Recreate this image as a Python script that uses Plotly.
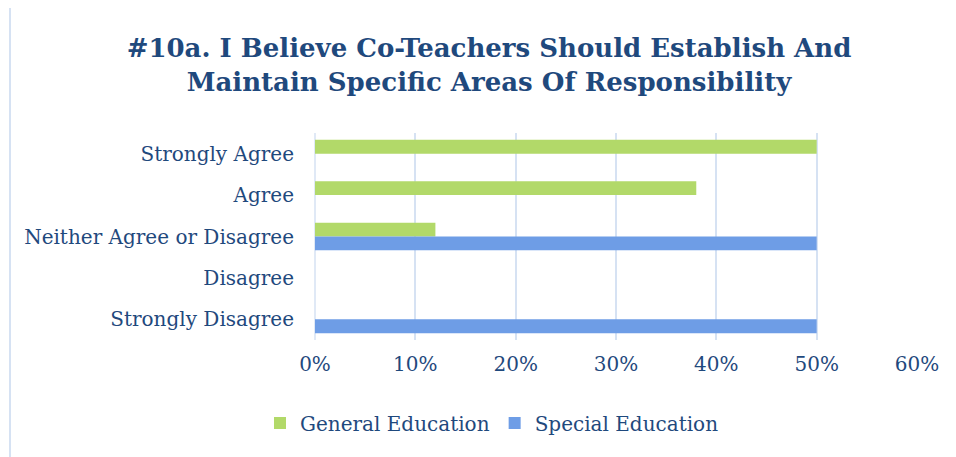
import plotly.graph_objects as go

# datos
categories = ["Strongly Agree", "Agree", "Neither Agree or Disagree", "Disagree", "Strongly Disagree"]
general_ed = [0.50, 0.38, 0.12, 0.0, 0.0]
special_ed = [0.0, 0.0, 0.50, 0.0, 0.50]
x_ticks = [0, 0.1, 0.2, 0.3, 0.4, 0.5, 0.6]
x_tick_labels = ["0%", "10%", "20%", "30%", "40%", "50%", "60%"]

# la página añade 8px de margen al body: se compensa aquí
OFF = 8
W, H = 956 - OFF, 457 - OFF
M_L, M_R, M_T, M_B = 315 - OFF, 39, 133 - OFF, 117
TEXT = "#1F497D"
GRID = "#D6E2F3"
FONT = "DejaVu Serif, Cambria, serif"

fig = go.Figure()
fig.add_trace(go.Bar(
    y=categories, x=general_ed, orientation="h", name="General Education",
    marker=dict(color="#B2D969", line=dict(width=0)),
))
fig.add_trace(go.Bar(
    y=categories, x=special_ed, orientation="h", name="Special Education",
    marker=dict(color="#6E9DE6", line=dict(width=0)),
))

pw = W - M_L - M_R
ph = H - M_T - M_B


def px_x(p):
    # pixel de la página -> coordenada paper
    return (p - OFF - M_L) / pw


def px_y(p):
    return (H - M_B - (p - OFF)) / ph


fig.update_layout(
    width=W, height=H,
    margin=dict(l=M_L, r=M_R, t=M_T, b=M_B),
    paper_bgcolor="white", plot_bgcolor="white",
    font=dict(family=FONT, size=20, color=TEXT),
    barmode="group", bargap=0.33, bargroupgap=0,
    title=dict(
        text="<b>#10a. I Believe Co-Teachers Should Establish And<br>Maintain Specific Areas Of Responsibility</b>",
        x=(489 - OFF) / W, xanchor="center", xref="container",
        y=1 - (57 - OFF) / H, yanchor="middle", yref="container",
        font=dict(family=FONT, size=26, color=TEXT),
    ),
    legend=dict(
        orientation="h", xref="container", x=(492 - OFF) / W, xanchor="center",
        yref="container", y=1 - (423 - OFF) / H, yanchor="middle",
        font=dict(size=20, color=TEXT), itemwidth=30,
        traceorder="normal",
    ),
    showlegend=True,
)
fig.update_xaxes(
    range=[0, 0.6], tickvals=x_ticks, ticktext=x_tick_labels,
    showgrid=True, gridcolor=GRID, gridwidth=1.5, zeroline=False,
    showline=False, ticks="", ticklabelstandoff=10,
    tickfont=dict(size=20, color=TEXT),
)
fig.update_yaxes(
    autorange="reversed", showgrid=False, showline=False, ticks="",
    ticklabelstandoff=20, tickfont=dict(size=20, color=TEXT),
)

# marco del área del gráfico (solo borde superior e izquierdo visibles)
fig.add_shape(type="line", xref="paper", yref="paper",
              x0=px_x(10), x1=px_x(960), y0=px_y(5), y1=px_y(5),
              line=dict(color=GRID, width=2))
fig.add_shape(type="line", xref="paper", yref="paper",
              x0=px_x(10), x1=px_x(10), y0=px_y(5), y1=px_y(460),
              line=dict(color=GRID, width=2))
fig.add_shape(type="line", xref="paper", yref="paper",
              x0=0, x1=0, y0=0, y1=1,
              line=dict(color=GRID, width=1.5), layer="below")

fig.write_html("out.html")
